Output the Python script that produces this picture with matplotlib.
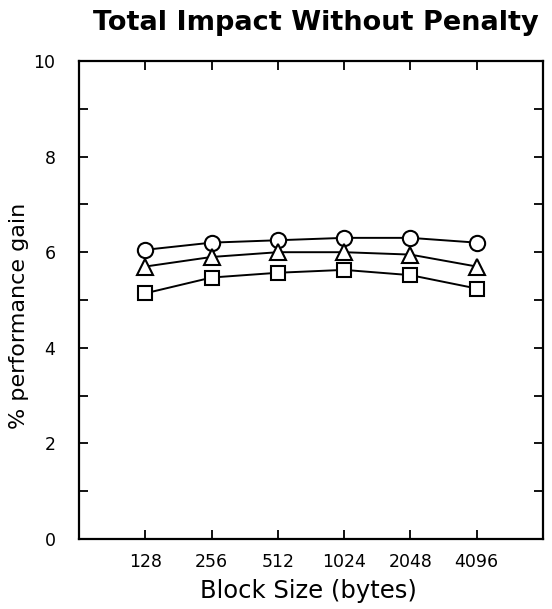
import matplotlib
matplotlib.use("Agg")
import matplotlib.pyplot as plt
from matplotlib.ticker import MultipleLocator

plt.rcParams['font.family'] = ['DejaVu Sans']

block_sizes = ["128", "256", "512", "1024", "2048", "4096"]
gain_circle = [6.05, 6.2, 6.25, 6.3, 6.3, 6.2]
gain_triangle = [5.7, 5.9, 6.0, 6.0, 5.95, 5.7]
gain_square = [5.14, 5.47, 5.57, 5.63, 5.52, 5.24]

W, H = 552, 609
fig = plt.figure(figsize=(W / 100, H / 100), dpi=100)
ax = fig.add_axes([79 / W, 1 - 539 / H, (543 - 79) / W, (539 - 61) / H])

xs = list(range(1, len(block_sizes) + 1))
style = dict(color='black', linewidth=1.4, markerfacecolor='white',
             markeredgecolor='black', markeredgewidth=1.5, clip_on=False)
ax.plot(xs, gain_circle, marker='o', markersize=11, **style)
ax.plot(xs, gain_triangle, marker='^', markersize=12, **style)
ax.plot(xs, gain_square, marker='s', markersize=10.5, **style)

ax.set_xlim(0, 7)
ax.set_ylim(0, 10)
ax.set_xticks(xs)
ax.set_xticklabels(block_sizes)
ax.yaxis.set_major_locator(MultipleLocator(2))
ax.yaxis.set_minor_locator(MultipleLocator(1))
ax.tick_params(axis='both', which='both', direction='in', top=True, right=True,
               length=6.5, width=1.3, labelsize=12.5)
ax.tick_params(axis='x', pad=10)
ax.tick_params(axis='y', pad=17)
for s in ax.spines.values():
    s.set_linewidth(1.6)

fig.text(308 / W, 1 - 598 / H, "Block Size (bytes)", fontsize=17.5,
         ha='center', va='baseline')
fig.text(19 / W, 1 - 316 / H, "% performance gain", fontsize=16,
         rotation=90, ha='center', va='center')
fig.text(316 / W, 1 - 30 / H, "Total Impact Without Penalty", fontsize=19.5,
         fontweight='bold', ha='center', va='baseline')

fig.savefig("out.png", dpi=100)
